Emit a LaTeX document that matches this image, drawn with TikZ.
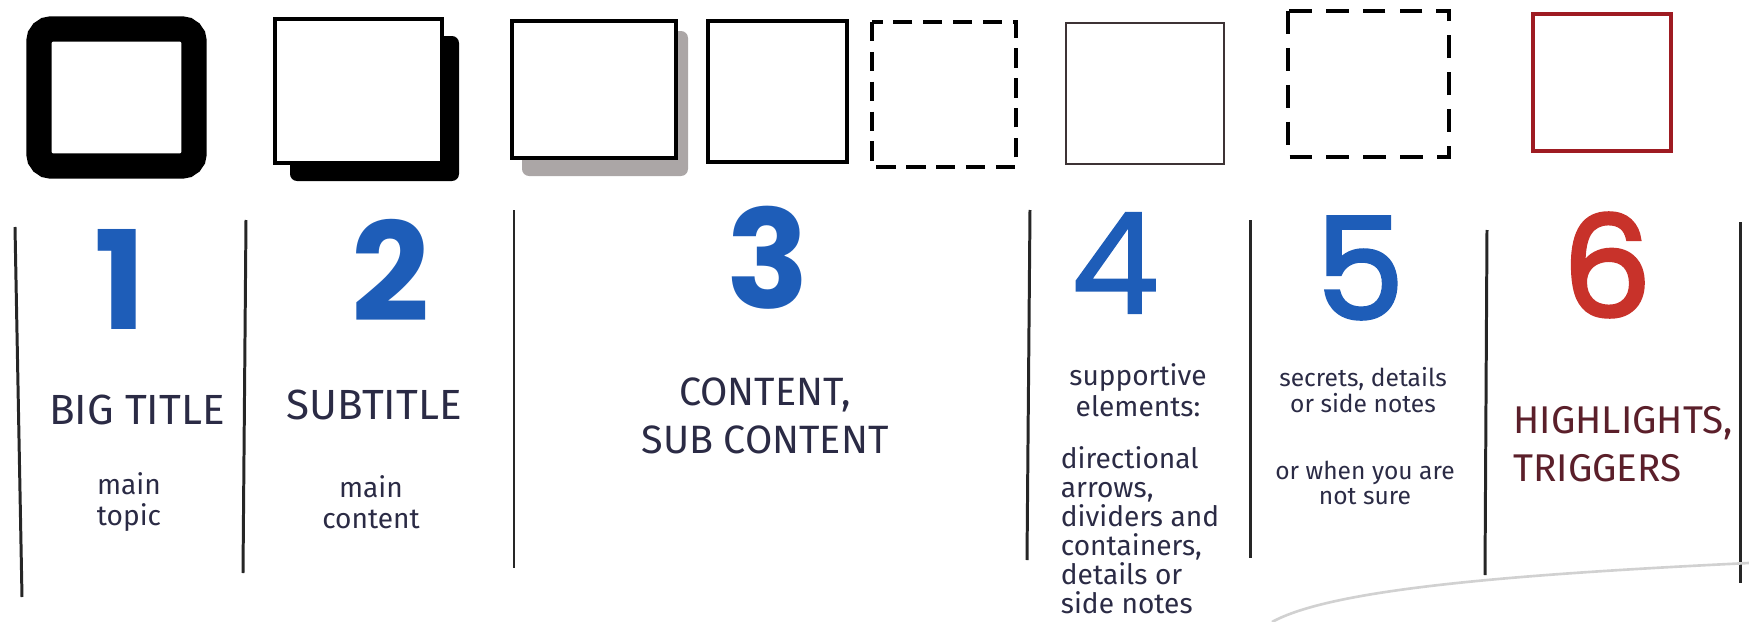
\documentclass[tikz,border=0pt]{standalone}
\usepackage{fontspec}
\setmainfont{Fira Sans}
\newfontfamily\numfont{Poppins}
\newfontfamily\numfontmid[FakeBold=2.5]{Poppins}
\newfontfamily\numfontlight[FakeBold=1.2]{Poppins}
\usepackage{xcolor}
\usetikzlibrary{positioning, calc}

\definecolor{ink}{HTML}{2B2B45}
\definecolor{numblue}{HTML}{1E5DB8}
\definecolor{numred}{HTML}{C8322A}
\definecolor{boxred}{HTML}{9E1B22}
\definecolor{darkred}{HTML}{5B1F2A}
\definecolor{shadowgray}{HTML}{ABA6A6}
\definecolor{browngray}{HTML}{3D3335}

\tikzset{
  number/.style={font=\numfont\bfseries\fontsize{78}{78}\selectfont, text=numblue, inner sep=0pt},
  midnumber/.style={number, font=\numfontmid\fontsize{80}{80}\selectfont},
  thinnumber/.style={number, font=\numfontlight\fontsize{80}{80}\selectfont},
  caps/.style={font=\fontsize{24}{27}\selectfont, text=ink, inner sep=0pt, align=center},
  note/.style={font=\fontsize{16}{17.5}\selectfont, text=ink, inner sep=0pt, align=center},
  smallnote/.style={font=\fontsize{14}{14.5}\selectfont, text=ink, inner sep=0pt, align=center},
  divider/.style={line width=1.7pt, draw=black!85},
}

\begin{document}
\begin{tikzpicture}[x=0.02cm, y=-0.02cm]
\useasboundingbox (0,0) rectangle (1749,622);

% Row of boxes
\draw[line width=14.5pt, rounded corners=7pt] (39,29) rectangle (194,166);
\fill[black, rounded corners=4pt] (290,36) rectangle (459,181);
\draw[line width=2pt, fill=white] (275,19) rectangle (442,163);
\fill[shadowgray, rounded corners=4pt] (522,31) rectangle (688,176);
\draw[line width=2pt, fill=white] (512,21) rectangle (676,158);
\draw[line width=1.8pt] (708,21) rectangle (847,162);
\draw[line width=2.2pt, dash pattern=on 11pt off 6pt] (872,22) rectangle (1016,167);
\draw[line width=1.5pt, draw=browngray] (1066,23) rectangle (1224,164);
\draw[line width=1.8pt, dash pattern=on 13pt off 8pt] (1288,11) rectangle (1449,157);
\draw[line width=1.8pt, draw=boxred] (1533,14) rectangle (1671,151);

% Column dividers
\foreach \xa/\ya/\xb/\yb in {15/227/22/597, 246/220/243/573, 514/210/514/568,
    1030/210/1027/560, 1250/220/1250/558, 1487/230/1485/575, 1740/222/1740/583}
  \draw[divider] (\xa,\ya) -- (\xb,\yb);

% Numbers
\node[number] (num1) at (120,279) {1};
\node[number] (num2) at (391,270) {2};
\node[number] (num3) at (768,258) {3};
\node[thinnumber] (num4) at (1115,263) {4};
\node[midnumber] (num5) at (1360,268) {5};
\node[midnumber, text=numred] (num6) at (1607,265) {6};

% Column 1: big title
\node[caps] (bigtitle) at (137,410) {BIG TITLE};
\node[note] (maintopic) at (129,502) {main\\topic};

% Column 2: subtitle
\node[caps] (subtitle) at (374,405) {SUBTITLE};
\node[note] (maincontent) at (371,502) {main\\content};

% Column 3: content
\node[caps, font=\fontsize{22.5}{27}\selectfont] (content) at (765,416) {CONTENT,\\SUB CONTENT};

% Column 4: supportive elements
\node[note] (supportive) at (1138,390) {supportive\\elements:};
\node[note, align=left, font=\fontsize{16}{16.5}\selectfont] (directional) at (1140,530)
   {directional\\arrows,\\dividers and\\containers,\\details or\\side notes};

% Column 5: secrets
\node[smallnote] (secrets) at (1363,390) {secrets, details\\or side notes};
\node[smallnote] (notsure) at (1365,483) {or when you are\\not sure};

% Column 6: highlights
\node[caps, align=left, text=darkred, font=\fontsize{22}{27}\selectfont] (highlights) at (1623,444) {HIGHLIGHTS,\\TRIGGERS};

% Paper edge
\draw[line width=1.5pt, draw=black!18] (1272,622) .. controls (1330,590) and (1500,575) .. (1749,563);
\end{tikzpicture}
\end{document}
